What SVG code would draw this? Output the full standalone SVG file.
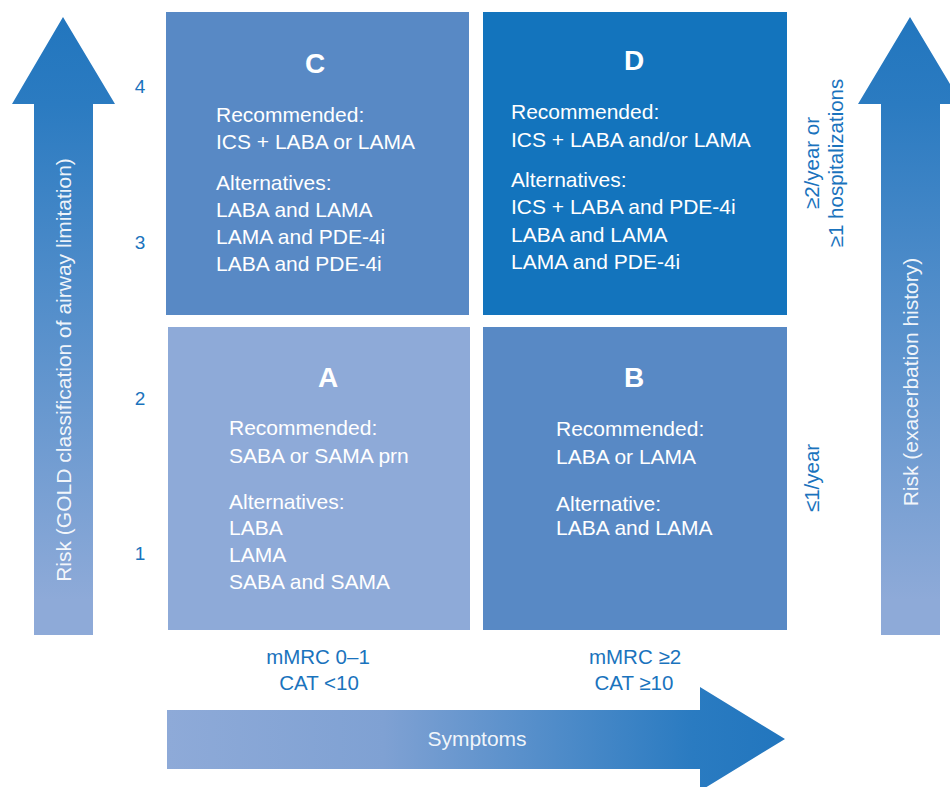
<svg xmlns="http://www.w3.org/2000/svg" width="950" height="787" viewBox="0 0 950 787">
<style>
text{font-family:"Liberation Sans",Arial,sans-serif}
.body{font-size:21px;fill:#ffffff}
.letter{font-size:28px;font-weight:bold;fill:#ffffff;text-anchor:middle}
.num{font-size:19px;fill:#1a73bd;text-anchor:middle}
.lab{font-size:20.5px;fill:#1a73bd;text-anchor:middle}
.arr{font-size:21px;fill:#ffffff;fill-opacity:0.92;text-anchor:middle}
</style>
<defs>
<linearGradient id="gv" x1="0" y1="17" x2="0" y2="600" gradientUnits="userSpaceOnUse">
<stop offset="0" stop-color="#2276be"/>
<stop offset="0.15" stop-color="#2b7bc1"/>
<stop offset="1" stop-color="#8eaad8"/>
</linearGradient>
<linearGradient id="gh" x1="167" y1="0" x2="785" y2="0" gradientUnits="userSpaceOnUse">
<stop offset="0" stop-color="#8eaad8"/>
<stop offset="0.35" stop-color="#7fa1d3"/>
<stop offset="0.85" stop-color="#2a7bc1"/>
<stop offset="1" stop-color="#2276be"/>
</linearGradient>
</defs>

<g id="arrows">
<path id="arrow-left" d="M63,17 L115,104 L93,104 L93,635 L34,635 L34,104 L12,104 Z" fill="url(#gv)"/>
<path id="arrow-right" d="M910,17 L962,104 L940,104 L940,635 L881,635 L881,104 L858,104 Z" fill="url(#gv)"/>
<path id="arrow-bottom" d="M167,710 L700,710 L700,687 L785,739 L700,791 L700,769 L167,769 Z" fill="url(#gh)"/>
</g>

<g id="node-C">
<rect x="166" y="12" width="303" height="303" fill="#5889c5"/>
<text class="letter" x="315" y="73">C</text>
<text class="body" x="216" y="122">Recommended:</text>
<text class="body" x="216" y="149">ICS + LABA or LAMA</text>
<text class="body" x="216" y="190">Alternatives:</text>
<text class="body" x="216" y="217">LABA and LAMA</text>
<text class="body" x="216" y="244">LAMA and PDE-4i</text>
<text class="body" x="216" y="271">LABA and PDE-4i</text>
</g>

<g id="node-D">
<rect x="483" y="12" width="304" height="303" fill="#1374bd"/>
<text class="letter" x="634" y="70">D</text>
<text class="body" x="511" y="119">Recommended:</text>
<text class="body" x="511" y="147">ICS + LABA and/or LAMA</text>
<text class="body" x="511" y="187">Alternatives:</text>
<text class="body" x="511" y="214">ICS + LABA and PDE-4i</text>
<text class="body" x="511" y="242">LABA and LAMA</text>
<text class="body" x="511" y="269">LAMA and PDE-4i</text>
</g>

<g id="node-A">
<rect x="168" y="327" width="302" height="303" fill="#8eaad8"/>
<text class="letter" x="328" y="387">A</text>
<text class="body" x="229" y="435">Recommended:</text>
<text class="body" x="229" y="463">SABA or SAMA prn</text>
<text class="body" x="229" y="509">Alternatives:</text>
<text class="body" x="229" y="535">LABA</text>
<text class="body" x="229" y="562">LAMA</text>
<text class="body" x="229" y="589">SABA and SAMA</text>
</g>

<g id="node-B">
<rect x="483" y="327" width="304" height="303" fill="#5889c5"/>
<text class="letter" x="634" y="387">B</text>
<text class="body" x="556" y="436">Recommended:</text>
<text class="body" x="556" y="464">LABA or LAMA</text>
<text class="body" x="556" y="511">Alternative:</text>
<text class="body" x="556" y="535">LABA and LAMA</text>
</g>

<g id="labels">
<text class="num" x="140" y="93">4</text>
<text class="num" x="140" y="249">3</text>
<text class="num" x="140" y="405">2</text>
<text class="num" x="140" y="560">1</text>
<text class="arr" transform="translate(71,370) rotate(-90)">Risk (GOLD classification of airway limitation)</text>
<text class="arr" transform="translate(918,382) rotate(-90)">Risk (exacerbation history)</text>
<text class="lab" transform="translate(819,163) rotate(-90)">≥2/year or</text>
<text class="lab" transform="translate(843,163) rotate(-90)">≥1 hospitalizations</text>
<text class="lab" transform="translate(819,478) rotate(-90)">≤1/year</text>
<text class="lab" x="318" y="664">mMRC 0–1</text>
<text class="lab" x="319" y="690">CAT &lt;10</text>
<text class="lab" x="635" y="664">mMRC ≥2</text>
<text class="lab" x="634" y="690">CAT ≥10</text>
<text class="arr" x="477" y="746">Symptoms</text>
</g>
</svg>
